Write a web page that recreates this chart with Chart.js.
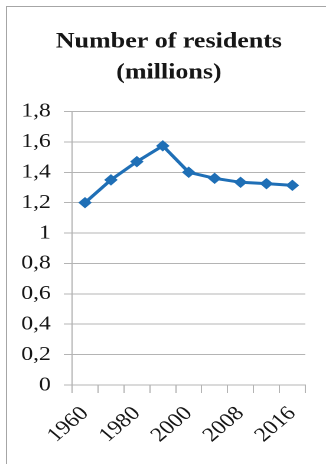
<!DOCTYPE html>
<html>
<head>
<meta charset="utf-8">
<script src="https://cdn.jsdelivr.net/npm/chart.js@4.4.1/dist/chart.umd.min.js"></script>
<style>
  html, body { margin: 0; padding: 0; background: #ffffff; }
  #wrap { position: relative; width: 326px; height: 464px; overflow: hidden; }
  #frame { position: absolute; left: 6px; top: 6px; width: 340px; height: 480px; border: 1px solid #a6a6a6; box-sizing: border-box; }
  /* the chart is laid out on a narrower canvas and widened, giving the broad serif lettering */
  #chart { position: absolute; left: 0; top: 0; transform: scaleX(1.1812); transform-origin: 0 0; }
</style>
</head>
<body>
<div id="wrap">
  <div id="frame"></div>
  <canvas id="chart" width="276" height="464"></canvas>
</div>
<script>
// Census years and population (millions)
const years = ['1960', '1970', '1980', '1990', '2000', '2004', '2008', '2012', '2016'];
const residents = [1.20, 1.35, 1.47, 1.574, 1.40, 1.36, 1.334, 1.325, 1.314];
// Years that get a label on the horizontal axis
const yearLabels = ['1960', '1980', '2000', '2008', '2016'];
// Value axis ticks
const valueTicks = [0, 0.2, 0.4, 0.6, 0.8, 1, 1.2, 1.4, 1.6, 1.8];

const serif = "'Liberation Serif', 'Times New Roman', serif";
const gridGrey = '#b4b4b4';
const blue = '#1f6fb6';
const ink = '#161616';

new Chart(document.getElementById('chart'), {
  type: 'line',
  data: {
    labels: years,
    datasets: [{
      data: residents,
      borderColor: blue,
      backgroundColor: blue,
      borderWidth: 3,
      pointStyle: 'rectRot',
      pointRadius: 5,
      pointBorderWidth: 1,
      pointBorderColor: blue,
      pointBackgroundColor: blue,
      tension: 0,
      clip: false
    }]
  },
  options: {
    responsive: false,
    animation: false,
    devicePixelRatio: 2,
    layout: { padding: { left: 10, right: 0, top: 0, bottom: 0 } },
    plugins: {
      legend: { display: false },
      tooltip: { enabled: false },
      title: {
        display: true,
        text: ['Number of residents', '(millions)'],
        color: ink,
        font: { family: serif, size: 22, weight: 'bold', lineHeight: 1.42 },
        padding: { top: 26, bottom: 23 }
      }
    },
    scales: {
      x: {
        offset: true,
        grid: {
          offset: true,
          drawOnChartArea: false,
          drawTicks: true,
          tickLength: 8,
          color: gridGrey,
          lineWidth: 1
        },
        border: { display: true, color: gridGrey, width: 1 },
        ticks: {
          autoSkip: false,
          minRotation: 45,
          maxRotation: 45,
          padding: 9,
          color: ink,
          font: { family: serif, size: 20 },
          callback: function (value, index) {
            const y = years[index];
            return yearLabels.includes(y) ? y : '';
          }
        },
        afterFit: function (scale) { scale.height = 79; }
      },
      y: {
        min: valueTicks[0],
        max: valueTicks[valueTicks.length - 1],
        afterBuildTicks: function (scale) {
          scale.ticks = valueTicks.map(v => ({ value: v }));
        },
        grid: {
          color: gridGrey,
          lineWidth: 1,
          drawTicks: true,
          tickLength: 7
        },
        border: { display: true, color: gridGrey, width: 1 },
        ticks: {
          padding: 11,
          color: ink,
          font: { family: serif, size: 20 },
          callback: function (value) {
            return (Math.round(value * 10) / 10).toString().replace('.', ',');
          }
        },
        afterFit: function (scale) { scale.width = 51; }
      },
      // empty margin on the right of the plot
      rightGap: {
        type: 'linear',
        position: 'right',
        display: true,
        grid: { display: false },
        border: { display: false },
        ticks: { display: false },
        afterFit: function (scale) { scale.width = 17.5; }
      }
    }
  }
});
</script>
</body>
</html>
